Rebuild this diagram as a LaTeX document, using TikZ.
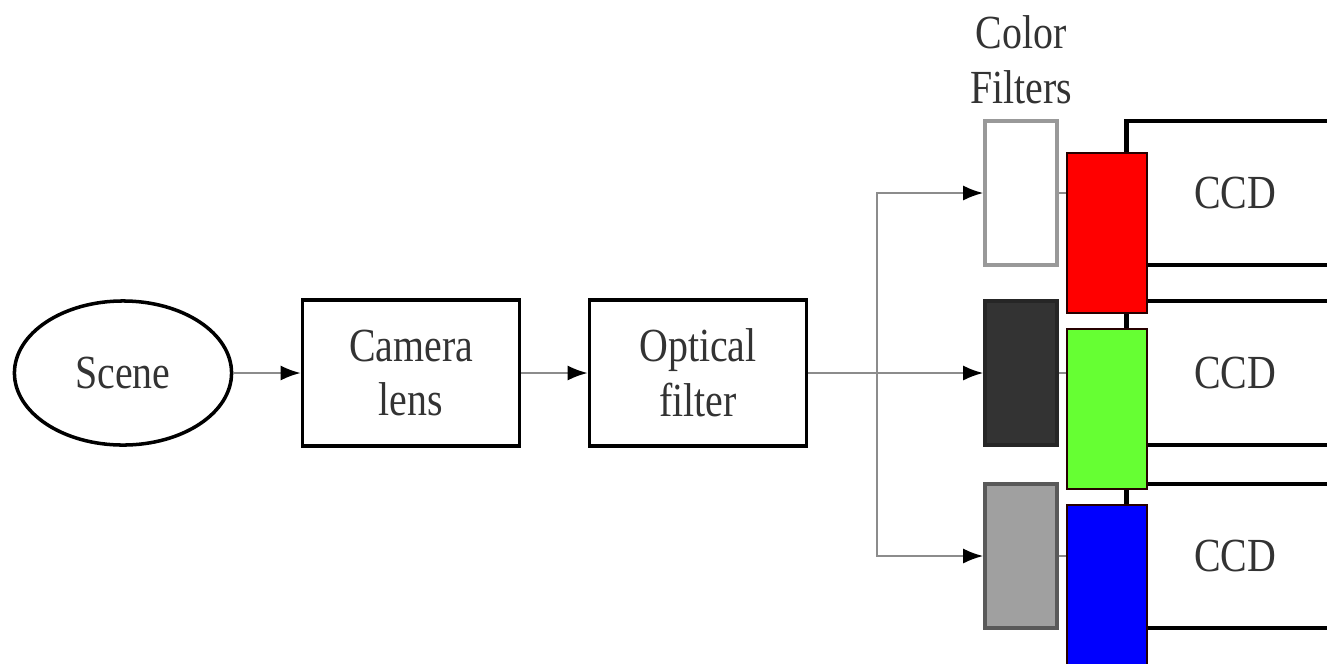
\documentclass[tikz,border=0pt]{standalone}
\usepackage{fontspec}
\setmainfont[FakeStretch=0.84]{Liberation Serif}
\usetikzlibrary{shapes.geometric,arrows.meta}
\definecolor{chipred}{HTML}{FF0000}
\definecolor{chipgreen}{HTML}{66FF33}
\definecolor{chipblue}{HTML}{0000FF}
\definecolor{filtdark}{HTML}{333333}
\definecolor{filtgray}{HTML}{A0A0A0}
\tikzset{
  block/.style={
    draw,
    line width=1pt,
    minimum width=2.17cm,
    minimum height=1.46cm,
    align=center,
    text=black!80,
    font=\fontsize{13.5}{15.5}\selectfont
  },
  scenebox/.style={
    block,
    shape=ellipse,
    minimum height=1.44cm
  },
  ccd/.style={
    block,
    line width=1.2pt,
    minimum height=1.44cm
  },
  filt/.style={
    line width=1pt,
    minimum width=0.72cm,
    minimum height=1.44cm,
    inner sep=0pt
  },
  chip/.style={
    draw=black!85!red,
    line width=0.7pt,
    minimum width=0.80cm,
    minimum height=1.60cm,
    inner sep=0pt
  },
  flow/.style={
    draw=black!45,
    line width=0.6pt,
    -{Latex[black,length=2mm,width=1.5mm]}
  },
  link/.style={
    draw=black!45,
    line width=0.6pt
  }
}
\begin{document}
\begin{tikzpicture}[x=0.01cm,y=-0.01cm]
    \useasboundingbox (0,0) rectangle (1327,663);
    \clip (0,0) rectangle (1327,663);
    \node[scenebox] (scene) at (123,373) {Scene};
    \node[block] (lens) at (411,373) {Camera\\lens};
    \node[block] (optic) at (698,373) {Optical\\filter};
    \node[align=center,text=black!80,font=\fontsize{13.5}{15.5}\selectfont] (title) at (1021,60) {Color\\Filters};
    \foreach \n/\y/\fc/\dc in {1/193/white/black!40, 2/373/filtdark/black!85, 3/556/filtgray/black!65}{
        \node[filt,fill=\fc,draw=\dc] (filt\n) at (1021,\y) {};
        \node[ccd] (ccd\n) at (1235,\y) {CCD};
    }
    \foreach \n/\y/\c in {1/233/chipred, 2/409/chipgreen, 3/585/chipblue}{
        \node[chip,fill=\c] (chip\n) at (1107,\y) {};
        \draw[link] (filt\n.east) -- (filt\n.east -| chip\n.west);
    }
    \coordinate (split) at (877,373);
    \draw[flow] (scene) -- (lens);
    \draw[flow] (lens) -- (optic);
    \draw[flow] (optic) -- (filt2);
    \draw[flow] (split) |- (filt1);
    \draw[flow] (split) |- (filt3);
\end{tikzpicture}
\end{document}
